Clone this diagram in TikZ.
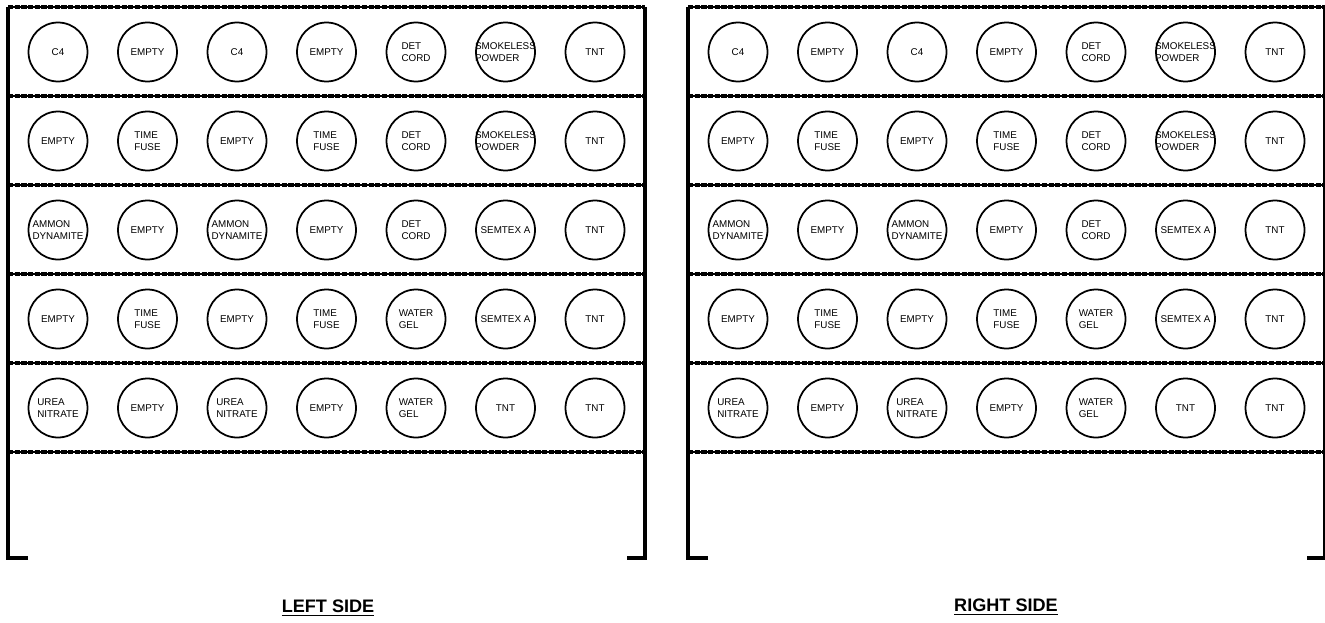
\documentclass[tikz,border=0pt]{standalone}
\usepackage{fontspec}
\setmainfont{Liberation Sans}
\usetikzlibrary{positioning}

\begin{document}
\begin{tikzpicture}[x=0.02cm, y=-0.02cm,
    slot/.style={draw, circle, line width=1pt, minimum size=1.18cm, inner sep=0pt},
    tag/.style={align=left, font=\fontsize{5.6}{7}\selectfont, inner sep=0pt},
    shelf/.style={line width=1.3pt},
    shelfdash/.style={line width=2.3pt, dash pattern=on 3pt off 0.8pt},
    post/.style={line width=2pt},
    caption/.style={font=\fontsize{10.3}{12}\selectfont\bfseries, inner sep=0pt}
]
\useasboundingbox (0,0) rectangle (1325,622);

\foreach \side/\dx in {L/0, R/680} {
  \begin{scope}[shift={(\dx,0)}]
    % frame posts with feet
    \draw[post] (28,558) -- (8,558) -- (8,7);
    \draw[post] (645,7) -- (645,558) -- (627,558);
    % shelves
    \foreach \k in {0,...,5} {
      \draw[shelf] (8,{7+89*\k}) -- (645,{7+89*\k});
      \draw[shelfdash] (8,{7+89*\k}) -- (645,{7+89*\k});
    }
    % containers
    \foreach \r/\items in {
        1/{C4,EMPTY,C4,EMPTY,{DET\\CORD},{SMOKELESS\\POWDER},TNT},
        2/{EMPTY,{TIME\\FUSE},EMPTY,{TIME\\FUSE},{DET\\CORD},{SMOKELESS\\POWDER},TNT},
        3/{{AMMON\\DYNAMITE},EMPTY,{AMMON\\DYNAMITE},EMPTY,{DET\\CORD},SEMTEX A,TNT},
        4/{EMPTY,{TIME\\FUSE},EMPTY,{TIME\\FUSE},{WATER\\GEL},SEMTEX A,TNT},
        5/{{UREA\\NITRATE},EMPTY,{UREA\\NITRATE},EMPTY,{WATER\\GEL},TNT,TNT}} {
      \foreach \t [count=\c] in \items {
        \node[slot] (\side\r\c) at ({58+89.5*(\c-1)},{52+89*(\r-1)}) {};
        \node[tag] (\side\r\c-txt) at (\side\r\c) {\t};
      }
    }
  \end{scope}
}

\node[caption] (leftcap) at (328,608) {\underline{LEFT SIDE}};
\node[caption] (rightcap) at (1006,607) {\underline{RIGHT SIDE}};
\end{tikzpicture}
\end{document}
